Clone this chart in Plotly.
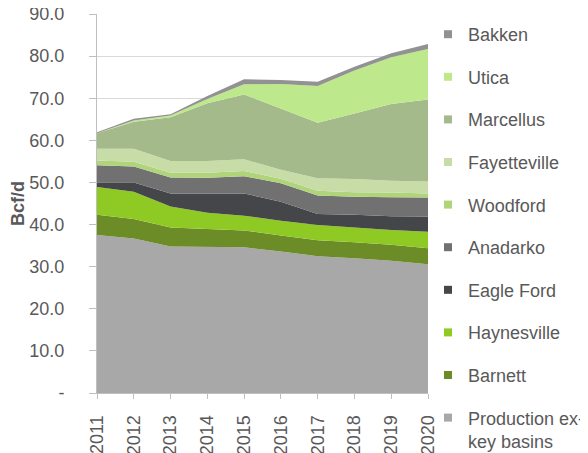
import plotly.graph_objects as go


YEARS = [2011, 2012, 2013, 2014, 2015, 2016, 2017, 2018, 2019, 2020]

# Bcf/d by basin, bottom of the stack first
PRODUCTION_EX = [37.5, 36.7, 34.8, 34.7, 34.6, 33.6, 32.5, 32.0, 31.4, 30.6]
BARNETT = [4.8, 4.6, 4.5, 4.2, 4.0, 3.8, 3.8, 3.8, 3.8, 3.8]
HAYNESVILLE = [6.6, 6.5, 5.0, 3.9, 3.5, 3.5, 3.6, 3.5, 3.5, 3.9]
EAGLE_FORD = [1.1, 2.2, 3.1, 4.6, 5.3, 4.5, 2.6, 3.0, 3.3, 3.6]
ANADARKO = [4.1, 3.8, 3.8, 3.7, 4.1, 4.4, 4.4, 4.3, 4.5, 4.5]
WOODFORD = [1.1, 1.1, 1.1, 1.2, 1.2, 1.1, 1.1, 1.1, 1.1, 1.0]
FAYETTEVILLE = [2.8, 3.1, 2.8, 2.8, 2.8, 2.1, 3.0, 3.1, 2.8, 2.8]
MARCELLUS = [3.7, 6.4, 10.4, 13.7, 15.4, 14.6, 13.2, 15.6, 18.2, 19.5]
UTICA = [0.0, 0.3, 0.4, 1.0, 2.4, 5.8, 8.7, 10.2, 11.1, 12.0]
BAKKEN = [0.2, 0.4, 0.3, 0.7, 1.2, 0.9, 1.0, 0.9, 1.0, 1.2]

SERIES = [
    ("Production ex-<br>key basins", PRODUCTION_EX, "#a8a8a8"),
    ("Barnett", BARNETT, "#6b8c27"),
    ("Haynesville", HAYNESVILLE, "#8fca24"),
    ("Eagle Ford", EAGLE_FORD, "#45464a"),
    ("Anadarko", ANADARKO, "#717171"),
    ("Woodford", WOODFORD, "#b0d47a"),
    ("Fayetteville", FAYETTEVILLE, "#c8dca8"),
    ("Marcellus", MARCELLUS, "#a4ba8a"),
    ("Utica", UTICA, "#bde98c"),
    ("Bakken", BAKKEN, "#929292"),
]

Y_TICKS = [0, 10, 20, 30, 40, 50, 60, 70, 80, 90]
Y_TICK_TEXT = ["-", "10.0", "20.0", "30.0", "40.0", "50.0",
               "60.0", "70.0", "80.0", "90.0"]

TEXT_COLOR = "#595959"
AXIS_COLOR = "#bfbfbf"
FONT = "Liberation Sans, Arial, sans-serif"

# the page body adds an 8px offset, so the figure is sized to fill the rest
FIG_W = 580
FIG_H = 445


fig = go.Figure()


# stacked areas
for name, values, color in SERIES:
    fig.add_trace(
        go.Scatter(
            x=YEARS,
            y=values,
            name=name,
            mode="lines",
            stackgroup="one",
            line=dict(width=0, color=color),
            fillcolor=color,
            showlegend=False,
        )
    )


# square legend keys, top of the stack listed first
for name, values, color in reversed(SERIES):
    fig.add_trace(
        go.Scatter(
            x=[None],
            y=[None],
            name=name,
            mode="markers",
            marker=dict(symbol="square", size=8, color=color),
            legendgroup=name,
            hoverinfo="skip",
        )
    )


fig.update_layout(
    width=FIG_W,
    height=FIG_H,
    margin=dict(l=89, r=160, t=6, b=60),
    paper_bgcolor="white",
    plot_bgcolor="white",
    font=dict(family=FONT, size=18, color=TEXT_COLOR),
    showlegend=True,
    legend=dict(
        traceorder="grouped",
        tracegroupgap=16.2,
        xref="container",
        yref="container",
        x=420 / FIG_W,
        xanchor="left",
        y=0.982,
        yanchor="top",
        valign="top",
        maxheight=FIG_H,
        bgcolor="rgba(0,0,0,0)",
        font=dict(family=FONT, size=18, color=TEXT_COLOR),
        itemwidth=30,
    ),
    xaxis=dict(
        range=[2011, 2020],
        tickvals=YEARS,
        ticktext=[str(y) for y in YEARS],
        tickangle=-90,
        tickfont=dict(size=18),
        ticklabelstandoff=9,
        ticklabeloverflow="allow",
        automargin=False,
        showgrid=False,
        showline=True,
        linecolor=AXIS_COLOR,
        linewidth=1,
        ticks="outside",
        ticklen=5,
        tickcolor=AXIS_COLOR,
        zeroline=False,
    ),
    yaxis=dict(
        range=[0, 90],
        tickvals=Y_TICKS,
        ticktext=Y_TICK_TEXT,
        tickfont=dict(size=18),
        ticklabelstandoff=21,
        ticklabeloverflow="allow",
        automargin=False,
        showgrid=True,
        gridcolor="#d9d9d9",
        gridwidth=1,
        showline=True,
        linecolor=AXIS_COLOR,
        linewidth=1,
        ticks="outside",
        ticklen=7,
        tickcolor=AXIS_COLOR,
        zeroline=False,
        title=dict(
            text="<b>Bcf/d</b>",
            font=dict(family=FONT, size=18, color=TEXT_COLOR),
            standoff=1,
        ),
    ),
)


fig.write_html("out.html")
